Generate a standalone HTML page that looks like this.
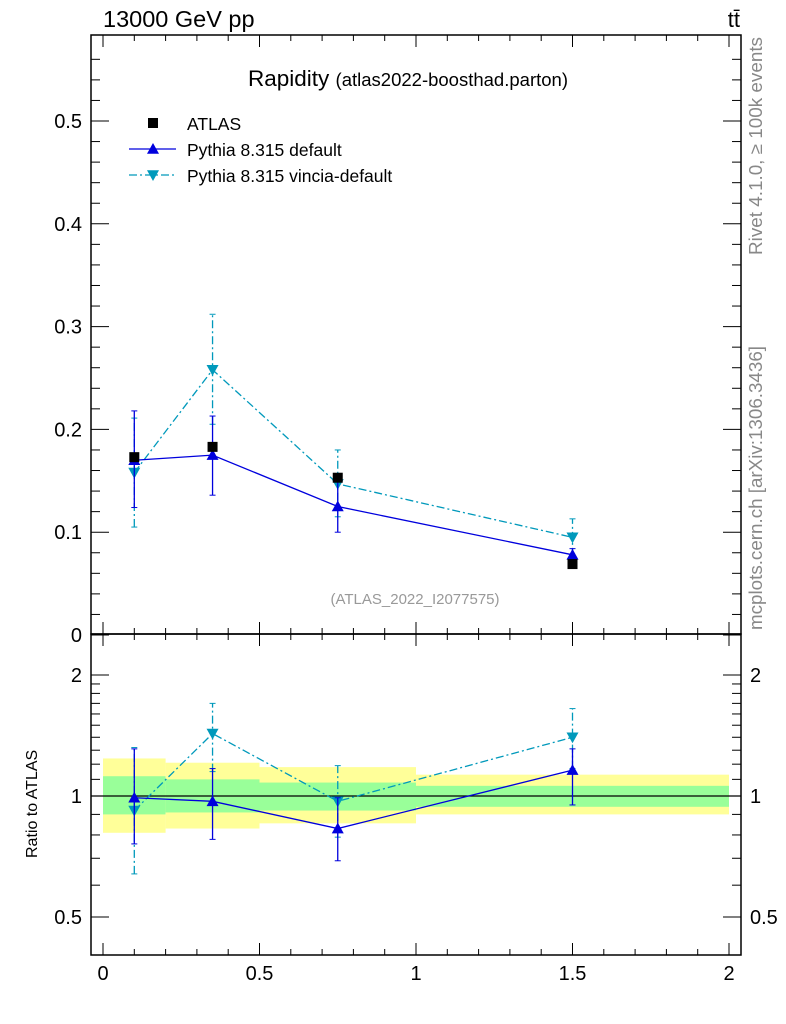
<!DOCTYPE html>
<html><head><meta charset="utf-8"><style>
body{margin:0;background:#fff;}
svg{display:block;font-family:"Liberation Sans",sans-serif;}
</style></head><body>
<svg id="c" width="786" height="1024" xmlns="http://www.w3.org/2000/svg"></svg>
<script>
const binEdges=[0,0.2,0.5,1,2];
const xCenters=[0.1,0.35,0.75,1.5];
const atlasVals=[0.173,0.183,0.153,0.069];
const defVals=[0.170,0.175,0.125,0.078];
const defErrLo=[0.124,0.136,0.100,0.072];
const defErrHi=[0.218,0.213,0.149,0.084];
const vinVals=[0.158,0.258,0.147,0.095];
const vinErrLo=[0.105,0.205,0.115,0.077];
const vinErrHi=[0.211,0.312,0.180,0.113];
const bandYellowLo=[0.81,0.83,0.855,0.9];
const bandYellowHi=[1.24,1.21,1.18,1.13];
const bandGreenLo=[0.9,0.91,0.92,0.94];
const bandGreenHi=[1.12,1.1,1.08,1.06];
const defRatio=[0.99,0.97,0.83,1.16];
const defRatioLo=[0.76,0.78,0.69,0.95];
const defRatioHi=[1.31,1.17,0.99,1.31];
const vinRatio=[0.92,1.43,0.97,1.40];
const vinRatioLo=[0.64,1.15,0.79,1.17];
const vinRatioHi=[1.32,1.70,1.19,1.65];
const mainTicks=[0,0.1,0.2,0.3,0.4,0.5];
const ratioTicks=[0.5,1,2];
const xTicks=[0,0.5,1,1.5,2];

const svg=document.getElementById('c');
const NS='http://www.w3.org/2000/svg';
const L=91,R=741,T=35,M=634,B=955;
const X=v=>103+v*313;
const Y=v=>635-v*1028;
const YR=r=>796-121*Math.log2(r);
function el(tag,attrs,parent,text){const e=document.createElementNS(NS,tag);for(const k in attrs)e.setAttribute(k,attrs[k]);if(text!==undefined)e.textContent=text;(parent||svg).appendChild(e);return e;}

for(let i=0;i<4;i++){
 const r1=el('rect',{x:X(binEdges[i]),y:YR(bandYellowHi[i]),width:X(binEdges[i+1])-X(binEdges[i]),height:YR(bandYellowLo[i])-YR(bandYellowHi[i]),fill:'#ffff99'});
 
 
 const r2=el('rect',{x:X(binEdges[i]),y:YR(bandGreenHi[i]),width:X(binEdges[i+1])-X(binEdges[i]),height:YR(bandGreenLo[i])-YR(bandGreenHi[i]),fill:'#99ff99'});
 
 
}
el('line',{x1:L,x2:R,y1:YR(1),y2:YR(1),stroke:'#000','stroke-width':1.2});

const f1=el('rect',{x:L,y:T,width:R-L,height:M-T,fill:'none',stroke:'#000','stroke-width':1.5});

const f2=el('rect',{x:L,y:M,width:R-L,height:B-M,fill:'none',stroke:'#000','stroke-width':1.5});


for(let v=0;v<=2.001;v+=0.1){
 const big=Math.abs(v*2-Math.round(v*2))<1e-6;const h=big?12:6;
 for(const [y0,d] of [[T,1],[M,-1],[M,1],[B,-1]]) el('line',{x1:X(v),x2:X(v),y1:y0,y2:y0+d*h,stroke:'#000'});
}
for(const v of xTicks){const t=el('text',{x:X(v),y:980,'text-anchor':'middle','font-size':20},svg,String(v));}
for(let v=0;v<=0.58;v+=0.02){const big=Math.round(v*100)%10===0;const h=big?18:9;
 if(Y(v)<T)continue;
 el('line',{x1:L,x2:L+h,y1:Y(v),y2:Y(v),stroke:'#000'});el('line',{x1:R,x2:R-h,y1:Y(v),y2:Y(v),stroke:'#000'});}
for(const v of mainTicks){const t=el('text',{x:82,y:Y(v)+7,'text-anchor':'end','font-size':20},svg,String(v));}
[0.5,0.6,0.7,0.8,0.9,1,1.1,1.2,1.3,1.4,1.5,1.6,1.7,1.8,1.9,2].forEach(r=>{const big=ratioTicks.includes(r);const h=big?18:9;
 el('line',{x1:L,x2:L+h,y1:YR(r),y2:YR(r),stroke:'#000'});el('line',{x1:R,x2:R-h,y1:YR(r),y2:YR(r),stroke:'#000'});});
for(const v of ratioTicks){const t=el('text',{x:82,y:YR(v)+7,'text-anchor':'end','font-size':20},svg,String(v));
 const t2=el('text',{x:750,y:YR(v)+7,'font-size':20},svg,String(v));}

function tri(x,y,up,color){const s=6;const p=up?`${x},${y-s} ${x-s},${y+s*0.8} ${x+s},${y+s*0.8}`:`${x},${y+s} ${x-s},${y-s*0.8} ${x+s},${y-s*0.8}`;return el('polygon',{points:p,fill:color});}
function series(vals,lo,hi,Yf,color,dash,up,name){
 const pts=xCenters.map((x,i)=>X(x)+','+Yf(vals[i])).join(' ');
 const pl=el('polyline',{points:pts,fill:'none',stroke:color,'stroke-width':1.3,'stroke-dasharray':dash||''});
 
 xCenters.forEach((x,i)=>{
  el('line',{x1:X(x),x2:X(x),y1:Yf(lo[i]),y2:Yf(hi[i]),stroke:color,'stroke-width':1.3,'stroke-dasharray':dash||''});
  el('line',{x1:X(x)-3,x2:X(x)+3,y1:Yf(lo[i]),y2:Yf(lo[i]),stroke:color});
  el('line',{x1:X(x)-3,x2:X(x)+3,y1:Yf(hi[i]),y2:Yf(hi[i]),stroke:color});
  const m=tri(X(x),Yf(vals[i]),up,color);
 });
}
series(vinVals,vinErrLo,vinErrHi,Y,'#0099bb','8,3,2,3',false,'vincia');
series(defVals,defErrLo,defErrHi,Y,'#0000dd','',true,'pythia-default');
xCenters.forEach((x,i)=>{const r=el('rect',{x:X(x)-5,y:Y(atlasVals[i])-5,width:10,height:10,fill:'#000'});});
series(vinRatio,vinRatioLo,vinRatioHi,YR,'#0099bb','8,3,2,3',false,'vincia-ratio');
series(defRatio,defRatioLo,defRatioHi,YR,'#0000dd','',true,'pythia-default-ratio');

function txt(a,s,name){const t=el('text',a,svg,s);return t;}
txt({x:103,y:27,'font-size':23.5},'13000 GeV pp','energy-label');
txt({x:740,y:27,'font-size':22,'text-anchor':'end'},'tt̄','process-label');
const ti=txt({x:248,y:86,'font-size':22.5},'','plot-title');
el('tspan',{},ti,'Rapidity ');el('tspan',{'font-size':18.5},ti,'(atlas2022-boosthad.parton)');
el('rect',{x:148,y:118,width:10,height:10,fill:'#000'});
txt({x:187,y:130,'font-size':17.5},'ATLAS','legend-atlas');
el('line',{x1:129,x2:176,y1:149,y2:149,stroke:'#0000dd','stroke-width':1.3});tri(153,149,true,'#0000dd');
txt({x:187,y:156,'font-size':17.5},'Pythia 8.315 default','legend-pythia-default');
el('line',{x1:129,x2:176,y1:175,y2:175,stroke:'#0099bb','stroke-width':1.3,'stroke-dasharray':'8,3,2,3'});tri(153,175,false,'#0099bb');
txt({x:187,y:182,'font-size':17.5},'Pythia 8.315 vincia-default','legend-vincia');
txt({x:415,y:604,'font-size':15,fill:'#999','text-anchor':'middle'},'(ATLAS_2022_I2077575)','analysis-id');
txt({x:0,y:0,'font-size':18,fill:'#888',transform:'translate(762,255) rotate(-90)','textLength':218,'lengthAdjust':'spacingAndGlyphs'},'Rivet 4.1.0, ≥ 100k events','rivet-label');
txt({x:0,y:0,'font-size':18,fill:'#888',transform:'translate(762,630) rotate(-90)','textLength':284,'lengthAdjust':'spacingAndGlyphs'},'mcplots.cern.ch [arXiv:1306.3436]','mcplots-label');
txt({x:0,y:0,'font-size':16,transform:'translate(37,858) rotate(-90)'},'Ratio to ATLAS','ratio-y-title');
</script>
</body></html>
